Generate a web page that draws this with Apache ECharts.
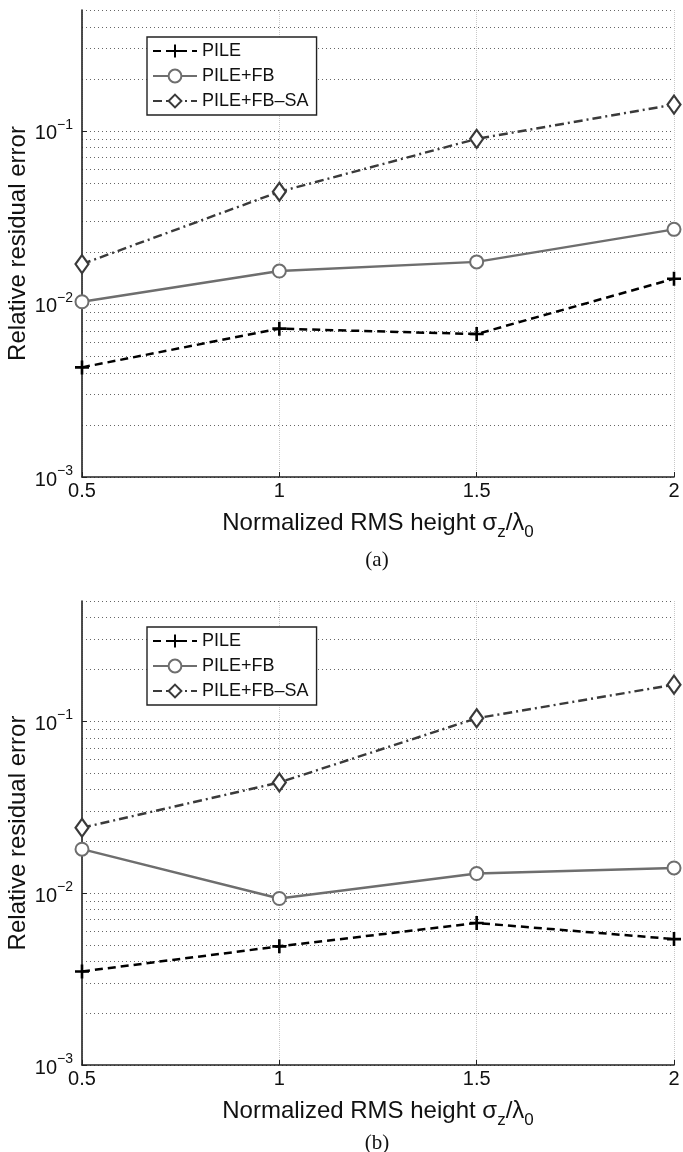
<!DOCTYPE html>
<html>
<head>
<meta charset="utf-8">
<script src="https://cdn.jsdelivr.net/npm/echarts@6/dist/echarts.min.js"></script>
<style>
  html, body { margin: 0; padding: 0; background: #fff; }
  #chart { width: 683px; height: 1152px; }
</style>
</head>
<body>
<div id="chart"></div>
<script>
// x values (normalized RMS height)
const rmsHeight = [0.5, 1, 1.5, 2];

// panel (a)
const pileA = [0.0043, 0.0072, 0.0067, 0.014];
const pileFbA = [0.0103, 0.0155, 0.0175, 0.027];
const pileFbSaA = [0.017, 0.0445, 0.09, 0.142];

// panel (b)
const pileB = [0.0035, 0.0049, 0.0067, 0.0054];
const pileFbB = [0.018, 0.0093, 0.013, 0.014];
const pileFbSaB = [0.024, 0.044, 0.104, 0.163];

const seriesNames = ['PILE', 'PILE+FB', 'PILE+FB\u2013SA'];
const captions = ['(a)', '(b)'];

const FONT = '"Liberation Sans", Arial, sans-serif';
const plusPath = 'path://M0,6L12,6M6,0L6,12';

const zip = (ys) => rmsHeight.map((x, i) => [x, ys[i]]);

const chartDom = document.getElementById('chart');
const myChart = echarts.init(chartDom);

// fixed plot boxes, labels may sit outside them
const grids = [
  { left: 82, right: 9, top: 10, height: 467, outerBoundsMode: 'none', containLabel: false },
  { left: 82, right: 9, top: 601, height: 464, outerBoundsMode: 'none', containLabel: false }
];

function makeXAxis(idx) {
  return {
    type: 'value',
    gridIndex: idx,
    min: 0.5,
    max: 2,
    interval: 0.5,
    axisLine: { show: true, lineStyle: { color: '#222', width: 1.6 } },
    axisTick: { show: true, inside: true, length: 5, lineStyle: { color: '#222' } },
    axisLabel: {
      color: '#111', fontFamily: FONT, fontSize: 20, margin: 4,
      formatter: (v) => String(v)
    },
    splitLine: { show: true, lineStyle: { color: '#c8c8c8', type: 'dotted', width: 1 } },
    name: '{n|Normalized RMS height \u03c3}{sub|z}{n|/\u03bb}{sub|0}',
    nameLocation: 'middle',
    nameGap: 34,
    nameTextStyle: {
      rich: {
        n: { fontFamily: FONT, fontSize: 24, color: '#111', lineHeight: 30, verticalAlign: 'top' },
        sub: { fontFamily: FONT, fontSize: 17, color: '#111', lineHeight: 30, verticalAlign: 'bottom', padding: [14, 0, 0, 0] }
      }
    }
  };
}

function makeYAxis(idx) {
  return {
    type: 'log',
    logBase: 10,
    gridIndex: idx,
    min: 0.001,
    max: 0.5,
    axisLine: { show: true, lineStyle: { color: '#222', width: 1.6 } },
    axisTick: { show: true, inside: true, length: 5, lineStyle: { color: '#222' } },
    minorTick: { show: false, splitNumber: 9 },
    axisLabel: {
      margin: 9,
      showMaxLabel: false,
      formatter: (v) => {
        const e = Math.round(Math.log10(v));
        if (Math.abs(v - Math.pow(10, e)) > 1e-9) return '';
        return '{b|10}{s|\u2212' + Math.abs(e) + '}';
      },
      rich: {
        b: { fontFamily: FONT, fontSize: 20, color: '#111', lineHeight: 26, verticalAlign: 'bottom' },
        s: { fontFamily: FONT, fontSize: 14, color: '#111', lineHeight: 26, verticalAlign: 'top' }
      }
    },
    splitLine: { show: true, lineStyle: { color: '#666', type: [1, 3], width: 1 } },
    minorSplitLine: { show: true, lineStyle: { color: '#666', type: [1, 3], width: 1 } },
    name: 'Relative residual error',
    nameLocation: 'middle',
    nameRotate: 90,
    nameGap: 52,
    nameMoveOverlap: false,
    nameTextStyle: { fontFamily: FONT, fontSize: 24, color: '#111' }
  };
}

function makeSeries(idx, pile, pileFb, pileFbSa) {
  return [
    {
      name: seriesNames[0], type: 'line', xAxisIndex: idx, yAxisIndex: idx,
      data: zip(pile),
      symbol: plusPath, symbolSize: 14,
      itemStyle: { color: 'rgba(0,0,0,0)', borderColor: '#000', borderWidth: 2.6 },
      lineStyle: { color: '#000', width: 2.5, type: [8, 5] },
      z: 5
    },
    {
      name: seriesNames[1], type: 'line', xAxisIndex: idx, yAxisIndex: idx,
      data: zip(pileFb),
      symbol: 'emptyCircle', symbolSize: 13,
      itemStyle: { color: '#6e6e6e', borderColor: '#6e6e6e', borderWidth: 2 },
      lineStyle: { color: '#6e6e6e', width: 2.4 },
      z: 4
    },
    {
      name: seriesNames[2], type: 'line', xAxisIndex: idx, yAxisIndex: idx,
      data: zip(pileFbSa),
      symbol: 'diamond', symbolSize: [13, 18],
      itemStyle: { color: '#fff', borderColor: '#3a3a3a', borderWidth: 2.2 },
      lineStyle: { color: '#3a3a3a', width: 2.4, type: [9, 4, 2, 4] },
      z: 3
    }
  ];
}

function makeLegend(top) {
  return {
    orient: 'vertical',
    left: 147,
    top: top,
    data: seriesNames,
    backgroundColor: '#fff',
    borderColor: '#222',
    borderWidth: 1.4,
    borderRadius: 0,
    padding: [5, 8, 5, 5],
    itemGap: 7,
    itemWidth: 44,
    itemHeight: 16,
    selectedMode: false,
    textStyle: { fontFamily: FONT, fontSize: 18, color: '#111' }
  };
}

const option = {
  backgroundColor: '#fff',
  animation: false,
  title: captions.map((c, i) => ({
    text: c,
    left: 372,
    textAlign: 'center',
    top: i === 0 ? 545 : 1128,
    textStyle: { fontFamily: '"Liberation Serif", "Times New Roman", serif', fontSize: 21, fontWeight: 'normal', color: '#111' }
  })),
  legend: [makeLegend(37), makeLegend(627)],
  grid: grids,
  xAxis: [makeXAxis(0), makeXAxis(1)],
  yAxis: [makeYAxis(0), makeYAxis(1)],
  series: [
    ...makeSeries(0, pileA, pileFbA, pileFbSaA),
    ...makeSeries(1, pileB, pileFbB, pileFbSaB)
  ]
};

myChart.setOption(option);
</script>
</body>
</html>
